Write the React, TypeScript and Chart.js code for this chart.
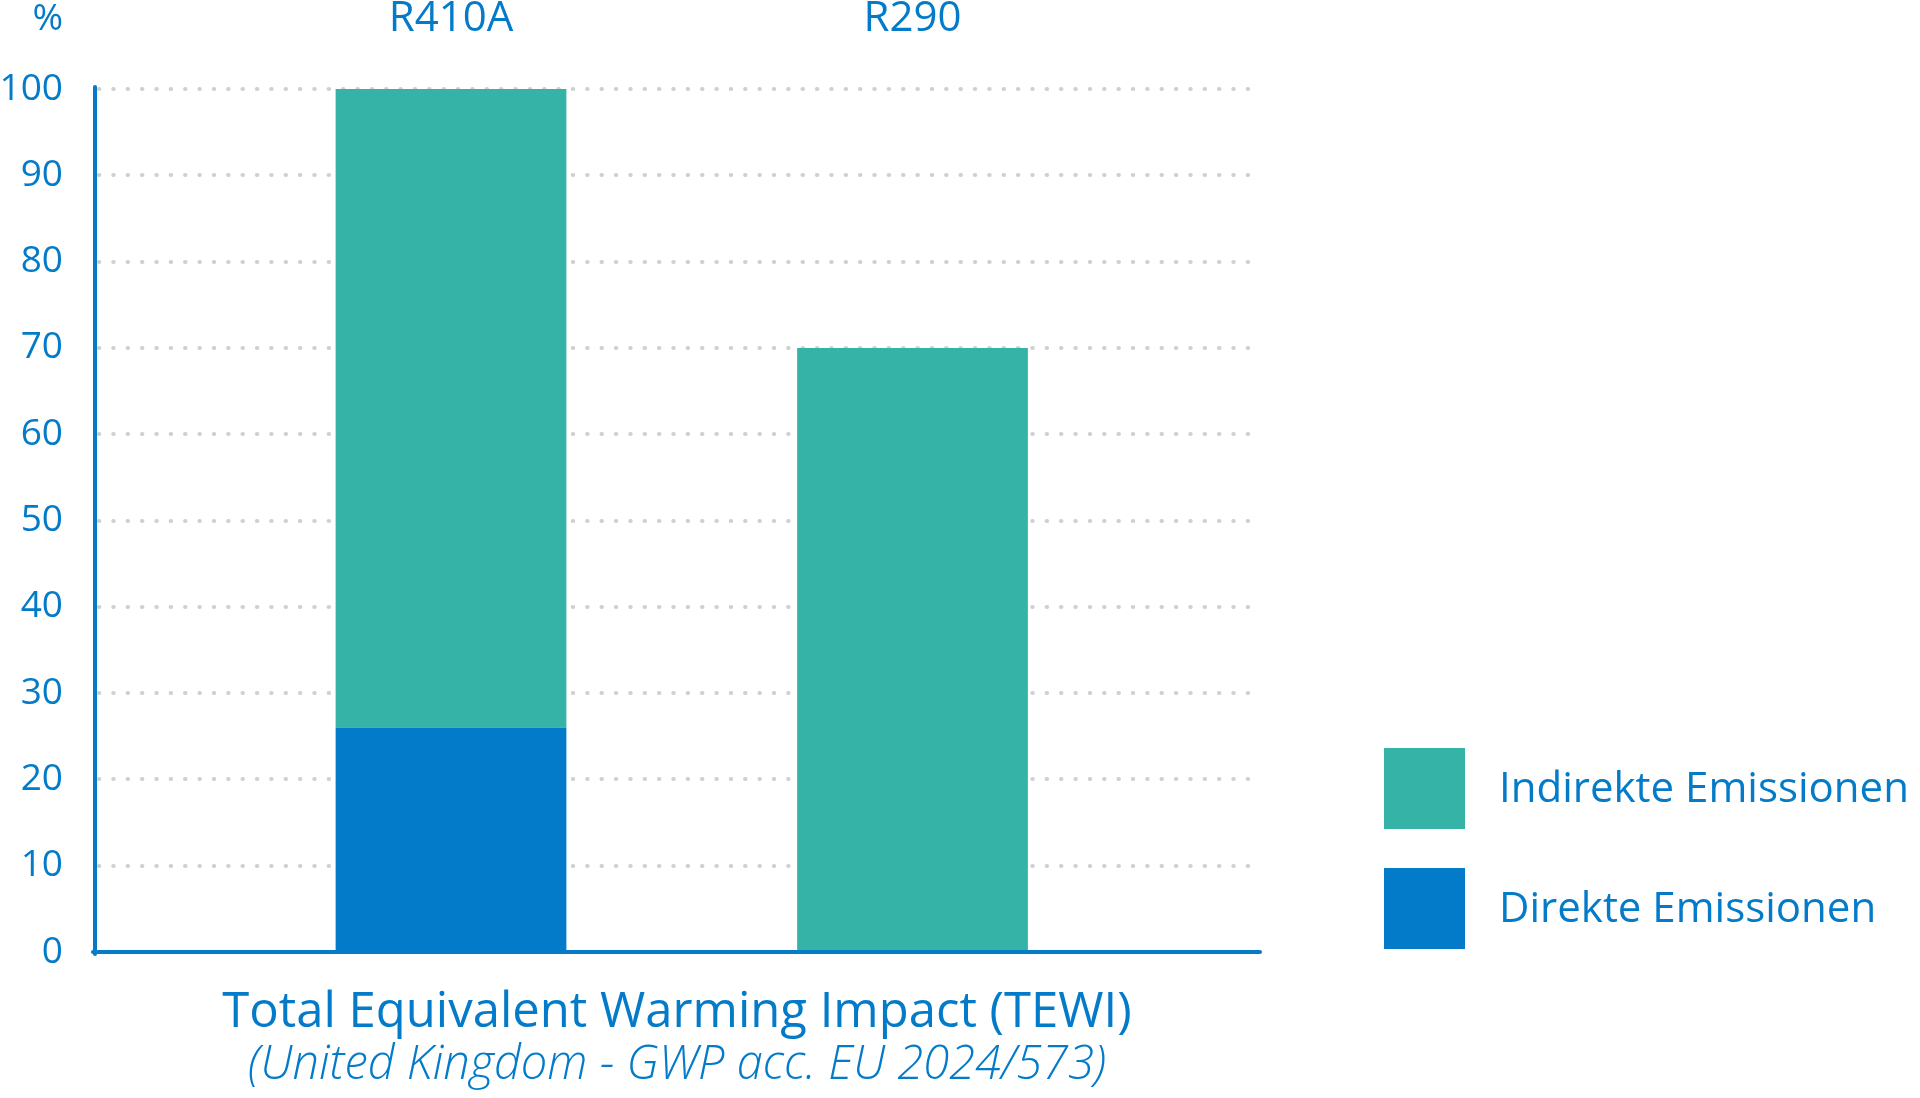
import React, { useEffect, useRef } from 'react';
import { Chart, registerables } from 'chart.js';

Chart.register(...registerables);

// ---- data ----
const categories = ['R410A', 'R290'];
const seriesLabels = ['Direkte Emissionen', 'Indirekte Emissionen'];
const direkteValues = [26, 0];
const indirekteValues = [74, 70];
const yTickStep = 10;
const yMin = 0;
const yMax = 100;
const yUnit = '%';
const titleText = 'Total Equivalent Warming Impact (TEWI)';
const subtitleText = '(United Kingdom - GWP acc. EU 2024/573)';

// ---- styles ----
const BLUE = '#037bc9';
const TEAL = '#35b3a7';
const TEXT = '#037bc9';
const GRID = '#d0d0d0';
const FONT = "'Open Sans', 'Noto Sans', sans-serif";
const seriesColors = [BLUE, TEAL];

const W = 1920;
const H = 1098;
const X_MIN = 0.2286;
const X_MAX = 2.7508;

const categoryTicks = (scale: any) => {
  scale.ticks = categories.map((_, i) => ({ value: i + 1 }));
};

const roundCapPlugin = {
  id: 'roundCap',
  beforeDraw(chart: any) {
    chart.ctx.lineCap = 'round';
  },
};

const unitLabelPlugin = {
  id: 'unitLabel',
  afterDraw(chart: any) {
    const y = chart.scales.y;
    const ctx = chart.ctx;
    ctx.save();
    ctx.font = `400 37px ${FONT}`;
    ctx.fillStyle = TEXT;
    ctx.textAlign = 'right';
    ctx.textBaseline = 'middle';
    ctx.fillText(yUnit, y.right - 32, 19);
    ctx.restore();
  },
};

export default function App() {
  const ref = useRef<HTMLCanvasElement>(null);

  useEffect(() => {
    document.body.style.margin = '0';
    document.body.style.overflow = 'hidden';
    const seriesData = [direkteValues, indirekteValues];
    const chart = new Chart(ref.current as HTMLCanvasElement, {
      type: 'bar',
      data: {
        datasets: seriesLabels.map((label, s) => ({
          label,
          data: seriesData[s].map((v, i) => ({ x: i + 1, y: v })),
          backgroundColor: seriesColors[s],
          borderWidth: 0,
          categoryPercentage: 1,
          barPercentage: 0.5,
        })),
      },
      options: {
        animation: false,
        responsive: false,
        maintainAspectRatio: false,
        events: [],
        layout: { padding: { left: 0, right: W - 1259, top: 0, bottom: 0 } },
        plugins: {
          legend: { display: false },
          tooltip: { enabled: false },
          title: {
            display: true,
            text: titleText,
            position: 'bottom',
            fullSize: false,
            weight: 1000,
            align: 'center',
            color: TEXT,
            font: { family: FONT, size: 49, weight: '400', lineHeight: 1 },
            padding: { top: 26.5, bottom: 0 },
          } as any,
          subtitle: {
            display: true,
            text: subtitleText,
            position: 'bottom',
            fullSize: false,
            weight: 1500,
            align: 'center',
            color: TEXT,
            font: { family: FONT, size: 47, style: 'italic', weight: '300', lineHeight: 1 },
            padding: { top: 5, bottom: 8.5 },
          } as any,
        },
        scales: {
          x: {
            type: 'linear',
            position: 'bottom',
            min: X_MIN,
            max: X_MAX,
            offset: false,
            stacked: true,
            grid: { display: false, drawTicks: false, offset: false },
            ticks: { display: false },
            border: { display: true, color: BLUE, width: 4, z: 1 },
            afterBuildTicks: categoryTicks,
            afterFit: (s: any) => { s.height = 10; },
          },
          x2: {
            type: 'linear',
            position: 'top',
            min: X_MIN,
            max: X_MAX,
            offset: false,
            grid: { display: false, drawTicks: false, offset: false },
            border: { display: false },
            afterBuildTicks: categoryTicks,
            ticks: {
              callback: (v: any) => categories[Math.round(v) - 1],
              padding: 49,
              color: TEXT,
              font: { family: FONT, size: 42, weight: '400', lineHeight: 1 },
              maxRotation: 0,
              autoSkip: false,
            },
            afterFit: (s: any) => { s.height = 89; },
          },
          y: {
            min: yMin,
            max: yMax,
            stacked: true,
            ticks: {
              stepSize: yTickStep,
              padding: 32,
              color: TEXT,
              font: { family: FONT, size: 37, weight: '400' },
            },
            grid: { color: GRID, lineWidth: 4, drawTicks: false },
            border: { display: true, color: BLUE, width: 4, dash: [0.5, 13.86], dashOffset: 12.5, z: 1 },
            afterFit: (s: any) => { s.width = 95; },
          },
        } as any,
      },
      plugins: [roundCapPlugin, unitLabelPlugin],
    });
    return () => chart.destroy();
  }, []);

  const legendItems = seriesLabels.map((label, i) => ({ label, color: seriesColors[i] })).reverse();

  return (
    <div style={{ position: 'relative', width: W, height: H, background: '#fff', fontFamily: FONT }}>
      <canvas ref={ref} width={W} height={H} style={{ position: 'absolute', left: 0, top: 0 }} />
      {legendItems.map((item, i) => (
        <div
          key={item.label}
          style={{
            position: 'absolute',
            left: 1384,
            top: 748 + i * 120,
            height: 81,
            display: 'flex',
            alignItems: 'center',
          }}
        >
          <div style={{ width: 81, height: 81, background: item.color }} />
          <div
            style={{
              marginLeft: 34,
              fontSize: 42,
              lineHeight: 1,
              color: TEXT,
              whiteSpace: 'nowrap',
              position: 'relative',
              top: -3,
            }}
          >
            {item.label}
          </div>
        </div>
      ))}
    </div>
  );
}
